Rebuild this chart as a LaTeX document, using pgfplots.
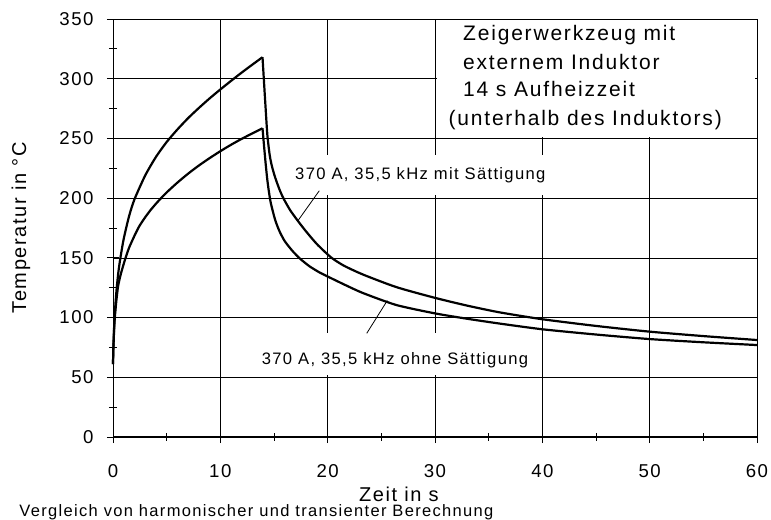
\documentclass[border=0pt]{standalone}
\usepackage{fontspec}
\setmainfont[LetterSpace=8]{Liberation Sans}
\newfontfamily\boxfont[LetterSpace=8.6]{Liberation Sans}
\usepackage{pgfplots}
\pgfplotsset{compat=1.18}
\begin{document}
\begin{tikzpicture}
\begin{axis}[
  name=ax,
  scale only axis, width=644pt, height=418pt,
  xmin=0, xmax=60, ymin=0, ymax=350,
  xtick={0,10,...,60}, ytick={0,50,...,350},
  minor x tick num=1, minor y tick num=1,
  grid=major, major grid style={black, line width=0.7pt},
  axis x line*=bottom, axis y line*=left,
  axis line style={line width=1pt, -},
  tick align=center, major tick length=12pt, minor tick length=8pt,
  tick style={black, line width=0.8pt},
  /pgf/number format/assume math mode=true,
  ticklabel style={font=\fontsize{18.6}{20}\selectfont},
  xticklabel shift=18pt, yticklabel shift=10pt,
  xlabel={Zeit in s}, ylabel={Temperatur in °C},
  label style={font=\fontsize{20}{22}\selectfont},
  xlabel style={at={(axis description cs:0.444,-0.1364)}, anchor=center, inner sep=0pt},
  ylabel style={at={(axis description cs:-0.143,0.5)}, anchor=center, rotate=0},
  clip=false,
]
% white areas behind texts
\fill[white] (axis cs:30.2,251.2) rectangle (axis cs:59.8,349.2);
\fill[white] (axis cs:16.3,202.6) rectangle (axis cs:41.2,236.1);
\fill[white] (axis cs:13.2,52.2) rectangle (axis cs:39.8,86.8);
% texts
\node[anchor=base west, inner sep=0pt, font=\fontsize{21}{23}\boxfont] at (axis cs:32.61,332.4) {Zeigerwerkzeug mit};
\node[anchor=base west, inner sep=0pt, font=\fontsize{21}{23}\boxfont] at (axis cs:32.61,308.1) {externem Induktor};
\node[anchor=base west, inner sep=0pt, font=\fontsize{21}{23}\boxfont] at (axis cs:32.61,284.7) {14 s Aufheizzeit};
\node[anchor=base west, inner sep=0pt, font=\fontsize{21}{23}\boxfont] at (axis cs:31.25,261.2) {(unterhalb des Induktors)};
\node[anchor=base west, inner sep=0pt, font=\fontsize{16.6}{18}\selectfont] at (axis cs:16.96,215.2) {370 A, 35,5 kHz mit Sättigung};
\node[anchor=base west, inner sep=0pt, font=\fontsize{16.6}{18}\selectfont] at (axis cs:13.85,60.3) {370 A, 35,5 kHz ohne Sättigung};
\node[anchor=base west, inner sep=0pt, font=\fontsize{16.5}{18}\selectfont] at (axis cs:-8.73,-66.7) {Vergleich von harmonischer und transienter Berechnung};
\draw[line width=0.8pt] (axis cs:19.22,206.2) -- (axis cs:17.26,181.5);
\draw[line width=0.8pt] (axis cs:25.56,114.3) -- (axis cs:23.64,86.8);
% mit Saettigung: heating
\addplot[black, line width=2.2pt, smooth, tension=0.4] coordinates {
(0,61) (0.02,70) (0.05,80) (0.1,91) (0.16,102) (0.25,114) (0.35,125) (0.5,138)
(0.69,150) (1.0,166) (1.5,185) (2.0,199) (3,219) (4,234.5) (5,247)
(6,257.5) (7,267) (8,275.5) (9,283.5) (10,291) (11,298.2) (12,305.2)
(13,311.9) (13.93,318)};
% mit Saettigung: cooling
\addplot[black, line width=2.2pt, smooth, tension=0.4] coordinates {
(13.93,318) (14.05,300) (14.2,278) (14.38,253) (14.6,236) (14.8,227) (15.1,217.5)
(15.5,207.5) (15.87,200) (16.5,190) (17.26,180.5) (18,172) (19,161.5) (20.3,150.5)
(21.5,143.5) (23.3,136) (26.4,125.5) (30,116.5) (33,110) (36,104.4) (40,98.6)
(45,93) (50,88.2) (55,84.5) (60,81.2)};
% ohne Saettigung: heating
\addplot[black, line width=2.2pt, smooth, tension=0.4] coordinates {
(0,61) (0.02,68) (0.05,77) (0.1,89) (0.16,99) (0.3,113) (0.47,126) (0.7,135.5)
(1.0,145) (1.19,150.5) (1.5,158.5) (2.0,168.5) (2.45,176.5) (3,184) (3.5,190)
(4,195.3) (4.5,200.2) (5,204.8) (6,213) (7,220.5) (8,227.3) (9,233.5) (10,239.3)
(11,244.7) (12,249.7) (13,254.3) (13.93,258.5)};
% ohne Saettigung: cooling
\addplot[black, line width=2.2pt, smooth, tension=0.4] coordinates {
(13.93,258.5) (14.05,246) (14.2,231) (14.35,217.5) (14.5,207) (14.7,196) (15.1,182)
(15.5,172.5) (16,164) (16.7,156) (17.4,149.5) (18.3,143) (19.2,138) (20.2,133.5)
(21.7,127) (23.3,120.5) (26.4,110.5) (30,103.5) (33,99) (36,95) (40,90.2)
(45,85.8) (50,82) (55,79.3) (60,77)};
\end{axis}
\path (ax.south west) ++(-113pt,-83pt) coordinate (bl);
\path (ax.north east) ++(14pt,19pt) coordinate (tr);
\pgfresetboundingbox
\useasboundingbox (bl) rectangle (tr);
\end{tikzpicture}
\end{document}
